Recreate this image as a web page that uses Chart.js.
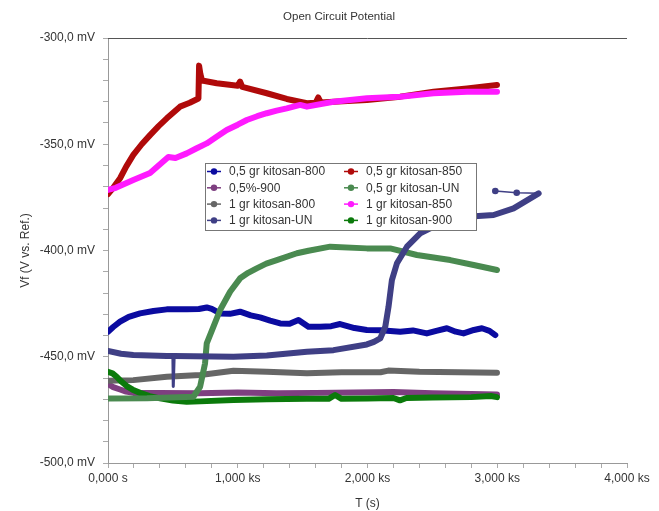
<!DOCTYPE html>
<html>
<head>
<meta charset="utf-8">
<script src="https://cdn.jsdelivr.net/npm/chart.js@4/dist/chart.umd.min.js"></script>
<style>
  html, body { margin: 0; padding: 0; background: #fff; }
  #wrap { width: 659px; height: 511px; position: relative; }
</style>
</head>
<body>
<div id="wrap"><canvas id="ocpChart"></canvas></div>
<script>
// Textos
const chartTitle = 'Open Circuit Potential';
const xTitle = 'T (s)';
const yTitle = 'Vf (V vs. Ref.)';

// Ticks
const xTicks = [0, 1000, 2000, 3000, 4000];
const xTickLabels = ['0,000 s', '1,000 ks', '2,000 ks', '3,000 ks', '4,000 ks'];
const yTicks = [-500, -450, -400, -350, -300];
const yTickLabels = ['-500,0 mV', '-450,0 mV', '-400,0 mV', '-350,0 mV', '-300,0 mV'];

// Séries (tempo em s, potencial em mV)
const names = ['0,5 gr kitosan-800', '0,5%-900', '1 gr kitosan-800', '1 gr kitosan-UN',
               '0,5 gr kitosan-850', '0,5 gr kitosan-UN', '1 gr kitosan-850', '1 gr kitosan-900'];
const colors = ['#0b0ba0', '#7e3f80', '#666666', '#3f3f85', '#b00a0a', '#4a8a50', '#ff1aff', '#0b7a0b'];

const t800a = [0, 40, 93, 160, 247, 350, 453, 607, 700, 761, 800, 864, 940, 1018, 1100, 1172, 1250, 1327, 1400, 1468, 1545, 1635, 1720, 1789, 1900, 1995, 2100, 2252, 2350, 2457, 2530, 2612, 2680, 2740, 2820, 2882, 2940, 2985];
const v800a = [-438.2, -436, -433.5, -431.2, -429.6, -428.5, -427.7, -427.7, -427.5, -426.8, -427.5, -429.6, -429.8, -428.8, -430.5, -431.5, -433, -434.3, -434.5, -432.7, -435.9, -435.9, -435.6, -434.6, -436.5, -437.4, -437.5, -438.2, -437.6, -439, -437.8, -436.6, -438.2, -439, -437.4, -436.6, -437.8, -439.8];

const t900a = [0, 40, 93, 140, 195, 400, 700, 1000, 1300, 1600, 1900, 2200, 2500, 2800, 2998];
const v900a = [-462.9, -464.3, -465.4, -466.4, -467, -467, -467.2, -466.8, -467.2, -467, -466.8, -466.6, -467.2, -467.5, -467.8];

const t800b = [0, 195, 453, 710, 967, 1224, 1533, 1800, 2100, 2160, 2400, 2700, 2998];
const v800b = [-461.3, -461, -459.4, -458.6, -456.6, -457.1, -457.8, -457.3, -457.3, -456.5, -457.1, -457.3, -457.5];

const tUNb = [0, 100, 195, 453, 500, 503, 507, 510, 967, 1224, 1533, 1738, 1995, 2050, 2098, 2137, 2162, 2188, 2227, 2304, 2406, 2561, 2767, 2972, 3126, 3255, 3319, 3150, 2985];
const vUNb = [-447.3, -448.6, -449.2, -449.7, -449.7, -464, -464, -449.7, -450, -449.4, -447.6, -446.9, -444.2, -443, -441.4, -435.9, -426.5, -413.9, -406, -398.2, -391.9, -387.2, -384.1, -383.3, -380.2, -375.5, -373.1, -372.8, -372];

const t850a = [0, 40, 93, 140, 195, 260, 324, 390, 453, 555, 630, 697, 702, 712, 725, 838, 1000, 1018, 1035, 1224, 1378, 1533, 1600, 1620, 1640, 1738, 1995, 2252, 2509, 2767, 2998];
const v850a = [-373.5, -370.5, -366, -360.5, -355, -350, -345.7, -341.5, -337.8, -332.3, -330.5, -328.5, -313, -317, -320, -321.3, -322.5, -320.5, -323, -326, -328.7, -330.7, -330.5, -328, -330.3, -330, -329.2, -327.6, -325.3, -323.7, -322.1];

const tUNa = [0, 300, 658, 710, 748, 761, 812, 864, 941, 1018, 1080, 1146, 1220, 1301, 1456, 1545, 1712, 1995, 2175, 2381, 2638, 2818, 2998];
const vUNa = [-469.6, -469.5, -468.8, -464.1, -453.1, -443.7, -435.9, -428, -419.4, -413.1, -410.5, -408.4, -406.2, -404.5, -401.3, -400.1, -398.2, -399, -399, -402.1, -404.5, -406.8, -409.2];

const t850b = [0, 60, 195, 324, 465, 520, 607, 680, 761, 840, 915, 1000, 1070, 1150, 1224, 1300, 1378, 1481, 1533, 1738, 1995, 2252, 2509, 2767, 2998];
const v850b = [-371.5, -370.5, -366.8, -363.5, -356, -356.5, -354.3, -352, -349.6, -346.4, -343.3, -340.8, -338.6, -336.8, -335.4, -334.2, -333.1, -331.5, -332.3, -330, -328.4, -327.6, -326, -325.3, -325.3];

const t900b = [0, 35, 67, 105, 144, 190, 247, 320, 401, 500, 607, 710, 967, 1224, 1533, 1700, 1750, 1800, 2000, 2200, 2250, 2300, 2500, 2800, 2950, 2998];
const v900b = [-457.1, -457.8, -459.4, -461.8, -463.8, -465.5, -467, -468.5, -469.6, -470.6, -471.2, -471, -470.4, -470, -469.8, -469.8, -468, -469.8, -469.6, -469.4, -470.5, -469.4, -469.2, -469, -468.5, -469];

const times = [t800a, t900a, t800b, tUNb, t850a, tUNa, t850b, t900b];
const values = [v800a, v900a, v800b, vUNb, v850a, vUNa, v850b, v900b];
// ordem de desenho (menor = por cima)
const drawOrder = [5, 8, 7, 1, 9, 2, 4, 3];

const fontFamily = '"Liberation Sans", Arial, sans-serif';

const datasets = names.map((name, i) => {
    const n = times[i].length;
    const isUN = name === '1 gr kitosan-UN';
    return {
        label: name,
        data: times[i].map((t, k) => ({ x: t, y: values[i][k] })),
        borderColor: colors[i],
        backgroundColor: colors[i],
        borderWidth: 6,
        borderJoinStyle: 'round',
        borderCapStyle: 'round',
        showLine: true,
        tension: 0,
        order: drawOrder[i],
        pointBorderWidth: 0,
        pointHoverRadius: 0,
        pointRadius: ctx => (isUN && ctx.dataIndex >= n - 2) ? 3.3 : 0,
        segment: {
            borderWidth: ctx => {
                const dx = ctx.p1.parsed.x - ctx.p0.parsed.x;
                if (dx < 0) return 1.5;          // retorno final
                if (isUN && dx < 5) return 3;    // pico estreito
                return 6;
            }
        }
    };
});

// Título, borda superior e legenda dentro do gráfico
const extras = {
    id: 'extras',
    afterDraw(chart) {
        const { ctx, chartArea } = chart;
        ctx.save();
        // título
        ctx.fillStyle = '#333';
        ctx.font = '11.5px ' + fontFamily;
        ctx.textAlign = 'center';
        ctx.textBaseline = 'middle';
        ctx.fillText(chartTitle, 339, 17);
        // linha superior
        ctx.strokeStyle = '#555';
        ctx.lineWidth = 1;
        ctx.beginPath();
        ctx.moveTo(chartArea.left, chartArea.top + 0.5);
        ctx.lineTo(chartArea.right, chartArea.top + 0.5);
        ctx.stroke();
        // legenda
        const bx = chartArea.left + 97, by = chartArea.top + 125, bw = 271, bh = 67;
        ctx.fillStyle = '#fff';
        ctx.fillRect(bx, by, bw, bh);
        ctx.strokeStyle = '#777';
        ctx.strokeRect(bx + 0.5, by + 0.5, bw, bh);
        ctx.font = '12px ' + fontFamily;
        ctx.textAlign = 'left';
        chart.data.datasets.forEach((ds, i) => {
            const col = Math.floor(i / 4), row = i % 4;
            const mx = bx + 2 + col * 137;
            const my = by + 8.5 + row * 16.3;
            ctx.strokeStyle = ds.borderColor;
            ctx.lineWidth = 1.5;
            ctx.beginPath();
            ctx.moveTo(mx, my);
            ctx.lineTo(mx + 14, my);
            ctx.stroke();
            ctx.fillStyle = ds.borderColor;
            ctx.beginPath();
            ctx.arc(mx + 7, my, 3.2, 0, Math.PI * 2);
            ctx.fill();
            ctx.fillStyle = '#333';
            ctx.fillText(ds.label, mx + 22, my + 0.5);
        });
        ctx.restore();
    }
};

new Chart(document.getElementById('ocpChart'), {
    type: 'scatter',
    data: { datasets },
    plugins: [extras],
    options: {
        responsive: true,
        maintainAspectRatio: false,
        animation: false,
        layout: { padding: { top: 38, right: 32, bottom: 0, left: 0 } },
        plugins: {
            legend: { display: false },
            title: { display: false },
            tooltip: { enabled: false }
        },
        scales: {
            x: {
                type: 'linear',
                min: 0,
                max: 4000,
                afterFit: s => { s.height = 48; },
                afterBuildTicks: s => {
                    s.ticks = [];
                    for (let v = 0; v <= 4000; v += 200) s.ticks.push({ value: v });
                },
                ticks: {
                    autoSkip: false,
                    maxRotation: 0,
                    padding: 3,
                    color: '#333',
                    font: { family: fontFamily, size: 12 },
                    callback: v => {
                        const k = xTicks.indexOf(v);
                        return k >= 0 ? xTickLabels[k] : '';
                    }
                },
                grid: { drawOnChartArea: false, drawTicks: true, tickLength: 5, color: '#aaa' },
                border: { color: '#999', width: 1 },
                title: {
                    display: true,
                    text: xTitle,
                    color: '#333',
                    font: { family: fontFamily, size: 12 },
                    padding: { top: 0, bottom: 0 }
                }
            },
            y: {
                type: 'linear',
                min: -500,
                max: -300,
                afterFit: s => { s.width = 108; },
                afterBuildTicks: s => {
                    s.ticks = [];
                    for (let v = -500; v <= -300; v += 10) s.ticks.push({ value: v });
                },
                ticks: {
                    autoSkip: false,
                    padding: 8,
                    color: '#333',
                    font: { family: fontFamily, size: 12 },
                    callback: v => {
                        const k = yTicks.indexOf(v);
                        return k >= 0 ? yTickLabels[k] : '';
                    }
                },
                grid: { drawOnChartArea: false, drawTicks: true, tickLength: 5, color: '#aaa' },
                border: { color: '#999', width: 1 },
                title: {
                    display: true,
                    text: yTitle,
                    color: '#333',
                    font: { family: fontFamily, size: 12 },
                    padding: { top: 18, bottom: 0 }
                }
            }
        }
    }
});
</script>
</body>
</html>
